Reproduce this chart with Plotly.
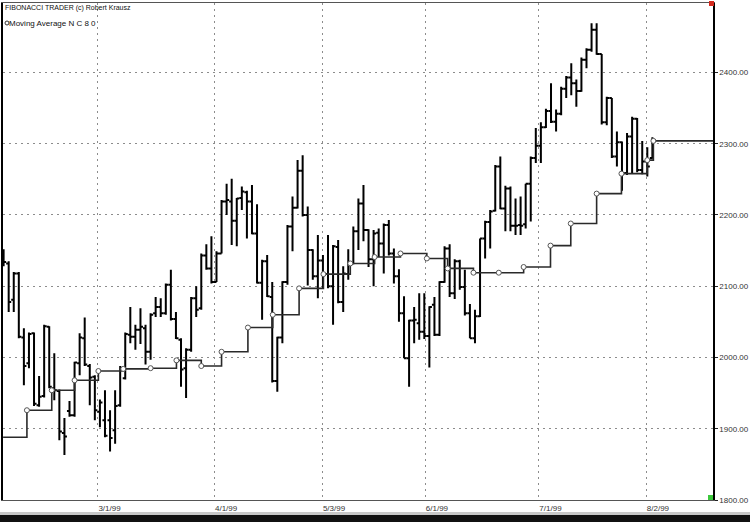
import plotly.graph_objects as go

# daily bars, indexed by trading day (0 = first full bar on the left)
bar_index = list(range(-1, 128))

opens = [2148, 2132, 2081, 2118, 2028, 1992, 2034, 1933, 1946, 2043, 1957, 1953, 1894, 1925, 1919, 1992,
         2027, 1988, 1973, 1924, 1912, 1912, 1898, 1933, 1971, 2032, 2029, 2039, 2041, 2008, 2062, 2071,
         2062, 2102, 2054, 2025, 1985, 2011, 2083, 2069, 2143, 2125, 2106, 2146, 2219, 2219, 2192, 2224,
         2232, 2219, 2174, 2105, 2135, 2085, 1967, 2028, 2106, 2184, 2210, 2262, 2200, 2151, 2114, 2136,
         2117, 2100, 2155, 2078, 2117, 2132, 2177, 2216, 2179, 2138, 2175, 2160, 2186, 2146, 2114, 2062,
         1999, 2052, 2048, 2036, 2030, 2074, 2032, 2106, 2153, 2090, 2135, 2099, 2062, 2027, 2058, 2167,
         2190, 2206, 2268, 2209, 2237, 2185, 2186, 2187, 2244, 2280, 2297, 2323, 2346, 2331, 2342, 2377,
         2393, 2385, 2374, 2418, 2432, 2460, 2426, 2330, 2364, 2282, 2302, 2259, 2310, 2335, 2263, 2275,
         2280]
highs = [2152, 2135, 2120, 2120, 2041, 2035, 2035, 1974, 2046, 2044, 2006, 1955, 1915, 1939, 1994, 2034,
         2056, 1991, 1975, 1941, 1954, 1926, 1954, 1988, 2035, 2071, 2046, 2069, 2046, 2062, 2085, 2083,
         2104, 2123, 2064, 2027, 2013, 2085, 2100, 2146, 2159, 2170, 2149, 2221, 2244, 2251, 2224, 2240,
         2234, 2242, 2215, 2137, 2144, 2106, 2029, 2107, 2186, 2226, 2277, 2284, 2212, 2152, 2172, 2144,
         2172, 2158, 2165, 2128, 2152, 2184, 2223, 2242, 2180, 2179, 2181, 2188, 2193, 2153, 2124, 2086,
         2053, 2071, 2090, 2090, 2072, 2085, 2107, 2156, 2159, 2138, 2137, 2123, 2075, 2067, 2167, 2192,
         2207, 2270, 2282, 2241, 2240, 2223, 2226, 2244, 2282, 2322, 2330, 2349, 2385, 2348, 2380, 2395,
         2413, 2390, 2421, 2434, 2469, 2469, 2426, 2366, 2364, 2317, 2303, 2315, 2338, 2336, 2304, 2295,
         2309]
lows = [2128, 2064, 2064, 2027, 1961, 1985, 1932, 1931, 1944, 1957, 1940, 1884, 1863, 1917, 1917, 1975,
        1988, 1933, 1912, 1902, 1888, 1868, 1879, 1931, 1969, 2020, 2011, 2019, 1990, 1997, 2057, 2057,
        2060, 2052, 2026, 1959, 1943, 2008, 2057, 2067, 2123, 2104, 2106, 2146, 2200, 2158, 2156, 2207,
        2167, 2173, 2104, 2053, 2085, 1965, 1952, 2020, 2102, 2149, 2209, 2198, 2101, 2109, 2083, 2097,
        2097, 2046, 2076, 2064, 2109, 2131, 2151, 2163, 2127, 2100, 2141, 2118, 2143, 2104, 2050, 1999,
        1959, 2020, 2025, 2026, 1986, 2030, 2030, 2105, 2085, 2082, 2095, 2059, 2027, 2020, 2057, 2139,
        2153, 2205, 2208, 2177, 2177, 2172, 2172, 2181, 2191, 2273, 2273, 2322, 2329, 2317, 2340, 2364,
        2368, 2352, 2373, 2406, 2429, 2425, 2327, 2326, 2280, 2268, 2234, 2256, 2259, 2260, 2257, 2254,
        2279]
closes = [2134, 2078, 2118, 2029, 1988, 2033, 1935, 1945, 2044, 1959, 1954, 1896, 1889, 1919, 1993, 2028,
          1990, 1972, 1926, 1937, 1890, 1887, 1932, 1985, 2033, 2029, 2039, 2043, 2008, 2060, 2071, 2062,
          2102, 2054, 2027, 1983, 2011, 2083, 2067, 2143, 2125, 2106, 2146, 2219, 2221, 2192, 2223, 2233,
          2219, 2174, 2105, 2135, 2086, 1967, 2028, 2106, 2184, 2210, 2262, 2200, 2151, 2114, 2136, 2117,
          2100, 2156, 2078, 2118, 2131, 2177, 2216, 2179, 2138, 2174, 2160, 2186, 2146, 2114, 2062, 1999,
          2052, 2053, 2036, 2030, 2071, 2032, 2106, 2153, 2090, 2135, 2099, 2062, 2027, 2058, 2167, 2190,
          2205, 2268, 2209, 2237, 2185, 2185, 2185, 2244, 2280, 2297, 2323, 2346, 2331, 2342, 2377, 2393,
          2385, 2374, 2418, 2432, 2460, 2426, 2330, 2364, 2282, 2302, 2259, 2310, 2335, 2263, 2275, 2268,
          2304]

# weekly step moving average (N C 8 0), position in bar units and value
ma_pos = [-1.1, 3.6, 8.5, 13.0, 17.7, 22.6, 28.0, 33.1, 38.0, 42.0, 47.2, 52.1, 57.3, 62.1, 67.4,
          72.2, 77.3, 82.5, 86.6, 91.7, 96.7, 101.6, 106.9, 110.9, 116.0, 120.9, 126.0, 127.2, 139.0]
ma_val = [1888, 1926, 1954, 1968, 1981, 1984, 1985, 1996, 1988, 2008, 2042, 2060, 2097, 2117, 2132,
          2141, 2146, 2139, 2125, 2119, 2119, 2127, 2157, 2188, 2230, 2258, 2277, 2304, 2304]

date_pos = [17.6, 40.6, 61.9, 82.2, 104.6, 125.8]
date_labels = ["3/1/99", "4/1/99", "5/3/99", "6/1/99", "7/1/99", "8/2/99"]

price_ticks = [1800, 1900, 2000, 2100, 2200, 2300, 2400]

fig = go.Figure()

fig.add_trace(go.Ohlc(x=bar_index, open=opens, high=highs, low=lows, close=closes,
                      increasing=dict(line=dict(color="black", width=2)),
                      decreasing=dict(line=dict(color="black", width=2)),
                      tickwidth=0.5, showlegend=False, hoverinfo="skip"))

fig.add_trace(go.Scatter(x=ma_pos, y=ma_val, mode="lines",
                         line=dict(shape="hv", color="#2a2a2a", width=1.6),
                         showlegend=False, hoverinfo="skip"))
fig.add_trace(go.Scatter(x=ma_pos[1:-1], y=ma_val[1:-1], mode="markers",
                         marker=dict(symbol="circle", size=5, color="white",
                                     line=dict(color="#555", width=1)),
                         showlegend=False, hoverinfo="skip"))

grid = dict(showgrid=True, gridcolor="#8c8c8c", gridwidth=1, griddash="2px,4px", zeroline=False)

fig.update_xaxes(range=[-1.12, 138.96], tickmode="array", tickvals=date_pos, ticktext=date_labels,
                 ticks="", ticklabelposition="outside right",
                 tickfont=dict(size=8, color="#333"),
                 showline=True, linecolor="#555", linewidth=1, mirror=True,
                 rangeslider=dict(visible=False), **grid)
fig.update_yaxes(range=[1800, 2497.5], side="right", tickmode="array", tickvals=price_ticks,
                 tickformat=".2f", ticks="outside", ticklen=3, tickcolor="#222",
                 tickfont=dict(size=8, color="#333"),
                 showline=True, linecolor="black", linewidth=1.5, mirror=True, **grid)

# corner markers and bottom window frame
fig.add_shape(type="rect", xref="paper", yref="paper", xsizemode="pixel", ysizemode="pixel",
              xanchor=1, yanchor=1, x0=-4, x1=1, y0=-3, y1=2,
              fillcolor="#d42a1e", line=dict(width=0))
fig.add_shape(type="rect", xref="paper", yref="paper", xsizemode="pixel", ysizemode="pixel",
              xanchor=1, yanchor=0, x0=-5, x1=0, y0=0, y1=5,
              fillcolor="#3cc83c", line=dict(width=0))
fig.add_shape(type="rect", xref="paper", yref="paper", x0=-0.01, x1=1.06, y0=-0.0302, y1=-0.0241,
              fillcolor="#c8c8c8", line=dict(width=0))
fig.add_shape(type="rect", xref="paper", yref="paper", x0=-0.01, x1=1.06, y0=-0.045, y1=-0.0302,
              fillcolor="#111", line=dict(width=0))
fig.add_shape(type="circle", xref="paper", yref="paper", xsizemode="pixel", ysizemode="pixel",
              xanchor=0, yanchor=1, x0=2, x1=6, y0=-22, y1=-18,
              fillcolor="white", line=dict(color="#333", width=1))

fig.add_annotation(text="FIBONACCI TRADER (c) Robert Krausz", xref="paper", yref="paper",
                   x=0, y=1, xanchor="left", yanchor="top", xshift=0, yshift=1,
                   showarrow=False, font=dict(size=7, color="#111"))
fig.add_annotation(text="Moving Average N C 8 0", xref="paper", yref="paper",
                   x=0, y=1, xanchor="left", yanchor="top", xshift=4, yshift=-14,
                   showarrow=False, font=dict(size=8, color="#111"))

fig.update_layout(width=750, height=522, margin=dict(l=1, r=36, t=3, b=22),
                  plot_bgcolor="white", paper_bgcolor="white",
                  font=dict(family="Arial, Liberation Sans, sans-serif"))

fig.write_html("out.html", config={"displayModeBar": False},
               post_script="document.body.style.margin='0';")
